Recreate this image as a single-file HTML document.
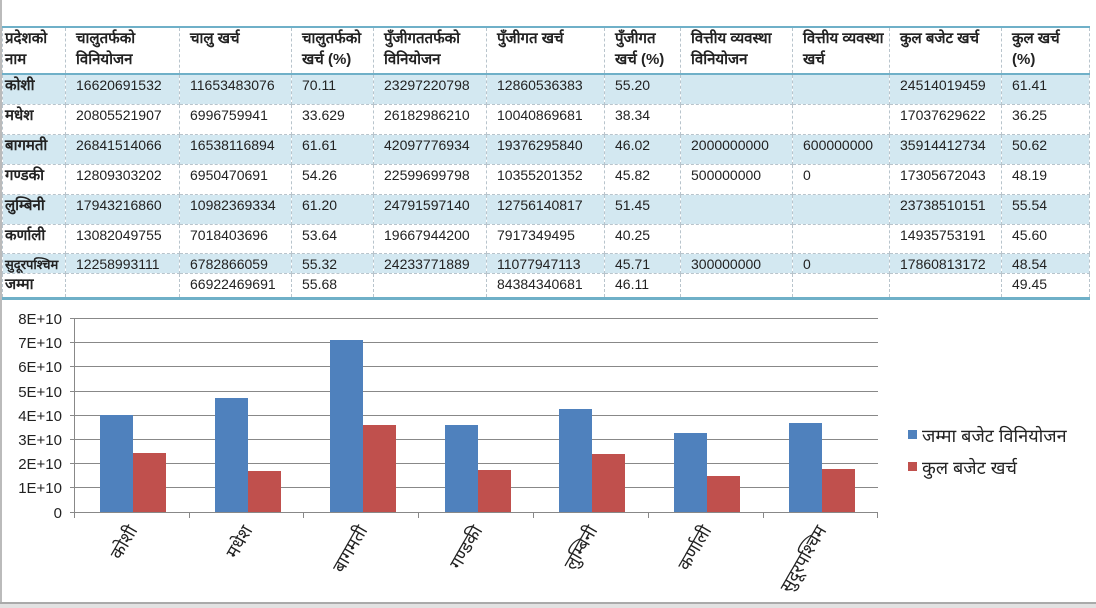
<!DOCTYPE html>
<html><head><meta charset="utf-8"><style>
body{margin:0;width:1096px;height:608px;background:#fff;position:relative;overflow:hidden;font-family:"Liberation Sans","DejaVu Sans",sans-serif;}
table{position:absolute;left:2px;top:26px;border-collapse:collapse;table-layout:fixed;font-size:14px;color:#222;}
td{border:1px dashed #b8c4cc;padding:2px 4px 0 10px;vertical-align:top;line-height:17px;overflow:hidden;white-space:nowrap;}
td:first-child{padding-left:2px;font-weight:bold;font-size:15px;}
tr.h td{font-weight:bold;font-size:15px;white-space:normal;line-height:21px;padding-top:0;}
tr.s td{background:#d3e8f1;}
table{border-top:2px solid #6fb0c8;border-bottom:3px solid #6fb0c8;}
tr.h td{border-bottom:2px solid #6fb0c8;}
</style></head><body>
<div style="position:absolute;left:0;top:0;width:2px;height:606px;background:#bbb"></div>
<table>
<colgroup><col style="width:63px"><col style="width:114px"><col style="width:112px"><col style="width:82px"><col style="width:113px"><col style="width:118px"><col style="width:76px"><col style="width:112px"><col style="width:97px"><col style="width:112px"><col style="width:88px"></colgroup>
<tr class="h" style="height:47px"><td>प्रदेशको नाम</td><td>चालुतर्फको विनियोजन</td><td>चालु खर्च</td><td>चालुतर्फको खर्च (%)</td><td>पुँजीगततर्फको विनियोजन</td><td>पुँजीगत खर्च</td><td>पुँजीगत खर्च (%)</td><td>वित्तीय व्यवस्था विनियोजन</td><td>वित्तीय व्यवस्था खर्च</td><td>कुल बजेट खर्च</td><td>कुल खर्च (%)</td></tr>
<tr class="s" style="height:30px"><td>कोशी</td><td>16620691532</td><td>11653483076</td><td>70.11</td><td>23297220798</td><td>12860536383</td><td>55.20</td><td></td><td></td><td>24514019459</td><td>61.41</td></tr>
<tr style="height:30px"><td>मधेश</td><td>20805521907</td><td>6996759941</td><td>33.629</td><td>26182986210</td><td>10040869681</td><td>38.34</td><td></td><td></td><td>17037629622</td><td>36.25</td></tr>
<tr class="s" style="height:30px"><td>बागमती</td><td>26841514066</td><td>16538116894</td><td>61.61</td><td>42097776934</td><td>19376295840</td><td>46.02</td><td>2000000000</td><td>600000000</td><td>35914412734</td><td>50.62</td></tr>
<tr style="height:30px"><td>गण्डकी</td><td>12809303202</td><td>6950470691</td><td>54.26</td><td>22599699798</td><td>10355201352</td><td>45.82</td><td>500000000</td><td>0</td><td>17305672043</td><td>48.19</td></tr>
<tr class="s" style="height:30px"><td>लुम्बिनी</td><td>17943216860</td><td>10982369334</td><td>61.20</td><td>24791597140</td><td>12756140817</td><td>51.45</td><td></td><td></td><td>23738510151</td><td>55.54</td></tr>
<tr style="height:29px"><td>कर्णाली</td><td>13082049755</td><td>7018403696</td><td>53.64</td><td>19667944200</td><td>7917349495</td><td>40.25</td><td></td><td></td><td>14935753191</td><td>45.60</td></tr>
<tr class="s" style="height:20px"><td style="font-size:13px">सुदूरपश्चिम</td><td>12258993111</td><td>6782866059</td><td>55.32</td><td>24233771889</td><td>11077947113</td><td>45.71</td><td>300000000</td><td>0</td><td>17860813172</td><td>48.54</td></tr>
<tr style="height:25px"><td>जम्मा</td><td></td><td>66922469691</td><td>55.68</td><td></td><td>84384340681</td><td>46.11</td><td></td><td></td><td></td><td>49.45</td></tr>
</table>
<svg width="1096" height="608" style="position:absolute;left:0;top:0" font-family="Liberation Sans, DejaVu Sans, sans-serif">
<rect x="0" y="603" width="1096" height="5" fill="#e2e2e2"/>
<line x1="0" y1="603" x2="1096" y2="603" stroke="#aaa" stroke-width="2"/>
<g stroke="#888" stroke-width="1">
<line x1="70" y1="318.5" x2="878" y2="318.5"/><line x1="70" y1="342.5" x2="878" y2="342.5"/><line x1="70" y1="366.5" x2="878" y2="366.5"/><line x1="70" y1="391.5" x2="878" y2="391.5"/><line x1="70" y1="415.5" x2="878" y2="415.5"/><line x1="70" y1="439.5" x2="878" y2="439.5"/><line x1="70" y1="463.5" x2="878" y2="463.5"/><line x1="70" y1="487.5" x2="878" y2="487.5"/>
<line x1="70" y1="512.5" x2="878" y2="512.5"/>
<line x1="74.5" y1="318" x2="74.5" y2="518"/>
<line x1="189.5" y1="512" x2="189.5" y2="518"/><line x1="303.5" y1="512" x2="303.5" y2="518"/><line x1="418.5" y1="512" x2="418.5" y2="518"/><line x1="533.5" y1="512" x2="533.5" y2="518"/><line x1="648.5" y1="512" x2="648.5" y2="518"/><line x1="763.5" y1="512" x2="763.5" y2="518"/><line x1="877.5" y1="512" x2="877.5" y2="518"/>
</g>
<g font-size="15" fill="#222" text-anchor="end">
<text x="62" y="324">8E+10</text><text x="62" y="348">7E+10</text><text x="62" y="372">6E+10</text><text x="62" y="397">5E+10</text><text x="62" y="421">4E+10</text><text x="62" y="445">3E+10</text><text x="62" y="469">2E+10</text><text x="62" y="493">1E+10</text><text x="62" y="518">0</text>
</g>
<g fill="#4f81bd">
<rect x="100" y="415" width="33" height="97"/><rect x="215" y="398" width="33" height="114"/><rect x="330" y="340" width="33" height="172"/><rect x="445" y="425" width="33" height="87"/><rect x="559" y="409" width="33" height="103"/><rect x="674" y="433" width="33" height="79"/><rect x="789" y="423" width="33" height="89"/>
</g>
<g fill="#c0504d">
<rect x="133" y="453" width="33" height="59"/><rect x="248" y="471" width="33" height="41"/><rect x="363" y="425" width="33" height="87"/><rect x="478" y="470" width="33" height="42"/><rect x="592" y="454" width="33" height="58"/><rect x="707" y="476" width="33" height="36"/><rect x="822" y="469" width="33" height="43"/>
</g>
<g font-size="18" fill="#222" text-anchor="end">
<text transform="translate(138,530) rotate(-60)">कोशी</text>
<text transform="translate(253,530) rotate(-60)">मधेश</text>
<text transform="translate(368,530) rotate(-60)">बागमती</text>
<text transform="translate(483,530) rotate(-60)">गण्डकी</text>
<text transform="translate(598,530) rotate(-60)">लुम्बिनी</text>
<text transform="translate(712,530) rotate(-60)">कर्णाली</text>
<text transform="translate(827,530) rotate(-60)">सुदूरपश्चिम</text>
</g>
<rect x="908" y="430" width="9" height="9" fill="#4f81bd"/>
<rect x="908" y="462" width="9" height="9" fill="#c0504d"/>
<g font-size="18" fill="#222"><text x="922" y="442">जम्मा बजेट विनियोजन</text><text x="922" y="474">कुल बजेट खर्च</text></g>
</svg>
</body></html>
